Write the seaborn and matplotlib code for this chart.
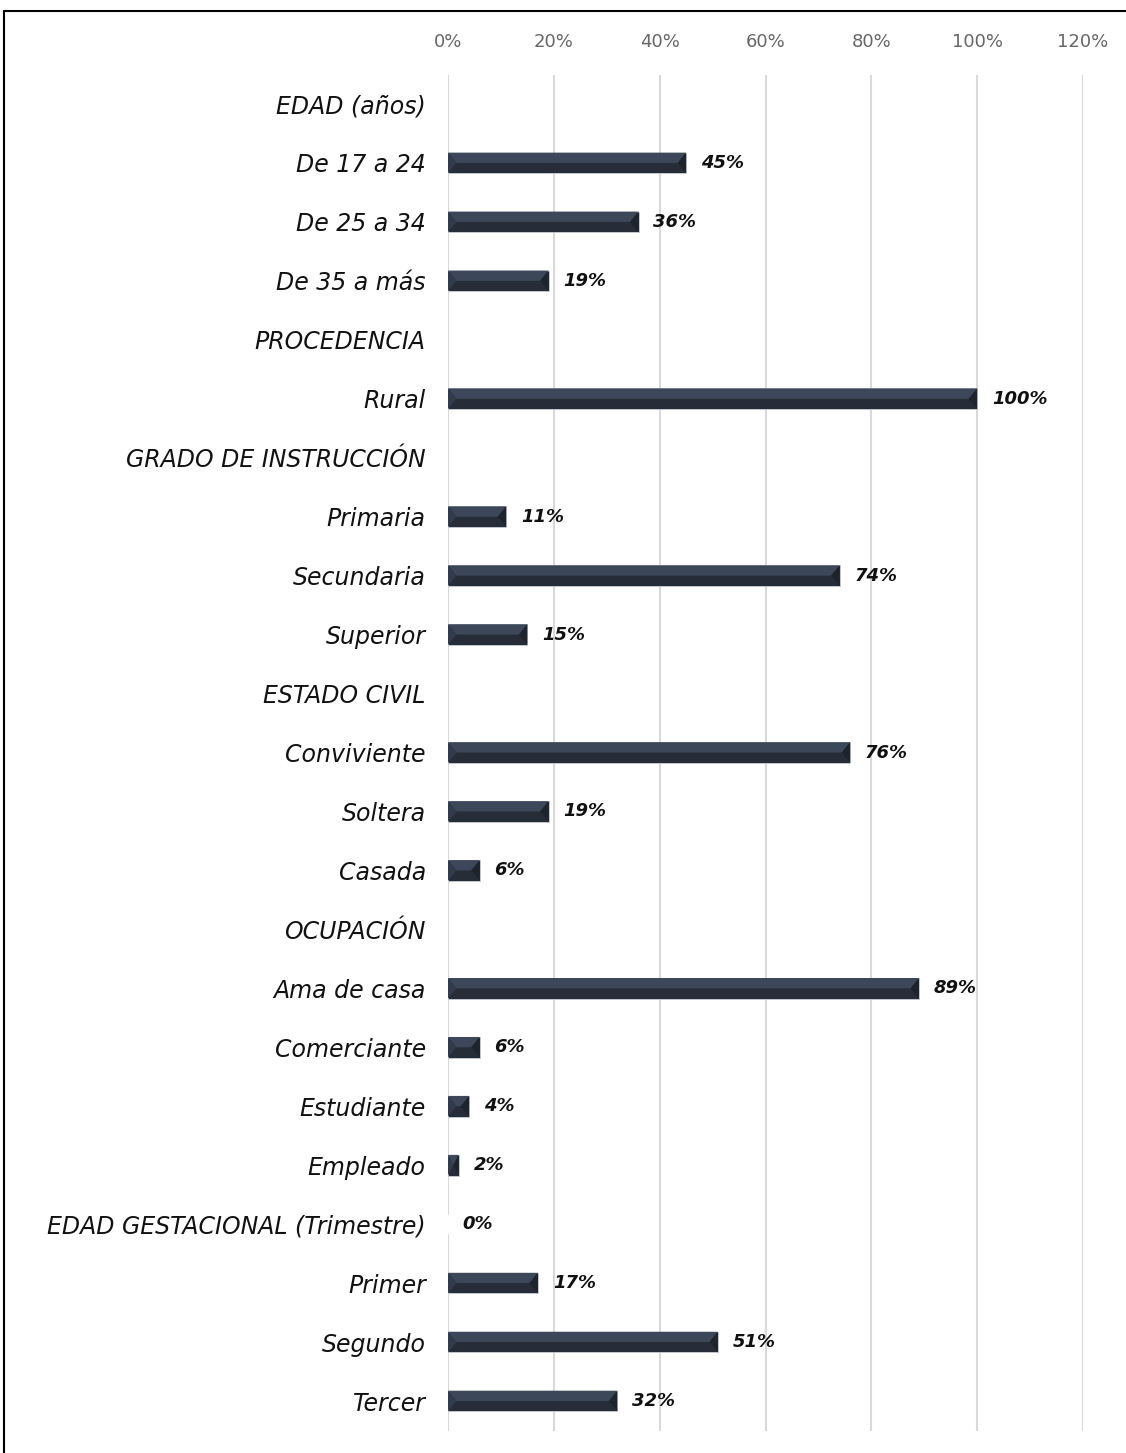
import numpy as np
import pandas as pd
import matplotlib
matplotlib.use("Agg")
import matplotlib.pyplot as plt
from matplotlib.lines import Line2D
from matplotlib.patches import Polygon
from matplotlib.ticker import FuncFormatter
import seaborn as sns

categories = ["EDAD (años)", "De 17 a 24", "De 25 a 34", "De 35 a más",
              "PROCEDENCIA", "Rural",
              "GRADO DE INSTRUCCIÓN", "Primaria", "Secundaria", "Superior",
              "ESTADO CIVIL", "Conviviente", "Soltera", "Casada",
              "OCUPACIÓN", "Ama de casa", "Comerciante", "Estudiante", "Empleado",
              "EDAD GESTACIONAL (Trimestre)", "Primer", "Segundo", "Tercer"]
values = [np.nan, 45, 36, 19,
          np.nan, 100,
          np.nan, 11, 74, 15,
          np.nan, 76, 19, 6,
          np.nan, 89, 6, 4, 2,
          0, 17, 51, 32]
tick_values = [0, 20, 40, 60, 80, 100, 120]

df = pd.DataFrame({"cat": categories, "val": values})

sns.set_theme(style="white")
plt.rcParams['font.family'] = ['DejaVu Sans']

W, H = 1126, 1453
fig = plt.figure(figsize=(W / 100, H / 100), dpi=100)
ax = fig.add_axes([448 / W, 1 - 1430.5 / H, (1083 - 448) / W, (1430.5 - 74.5) / H])

sns.barplot(data=df, x="val", y="cat", order=categories, color="#262D38",
            saturation=1, width=0.35, ax=ax, orient="h")

# bevel: lighter upper half, derived from each bar's geometry
for p in ax.patches:
    x0, y0 = p.get_x(), p.get_y()
    w, h = p.get_width(), p.get_height()
    if not np.isfinite(w) or w <= 0:
        continue
    p.set_edgecolor("#c9ced6")
    p.set_linewidth(0.6)
    inset_x = min(w * 0.5, 1.6)
    top = Polygon([[x0, y0], [x0 + w, y0], [x0 + w - inset_x, y0 + h / 2],
                   [x0 + inset_x, y0 + h / 2]], closed=True,
                  facecolor="#3C475A", edgecolor="none", zorder=p.get_zorder() + 0.1)
    ax.add_patch(top)
    left = Polygon([[x0, y0], [x0 + inset_x, y0 + h / 2], [x0, y0 + h]], closed=True,
                   facecolor="#323B4B", edgecolor="none", zorder=p.get_zorder() + 0.1)
    ax.add_patch(left)
    right = Polygon([[x0 + w, y0], [x0 + w - inset_x, y0 + h / 2], [x0 + w, y0 + h]],
                    closed=True, facecolor="#1E242D", edgecolor="none",
                    zorder=p.get_zorder() + 0.1)
    ax.add_patch(right)

# value labels
for i, v in enumerate(values):
    if np.isfinite(v):
        ax.text(v + 2.8, i, f"{v:.0f}%", va="center", ha="left",
                fontsize=13, fontweight="bold", fontstyle="italic", color="#111111")

ax.set_xlim(0, 120)
ax.set_ylim(len(categories) - 0.5, -0.5)
ax.set_xticks(tick_values)
ax.xaxis.set_major_formatter(FuncFormatter(lambda x, _: f"{x:.0f}%"))
ax.xaxis.tick_top()
ax.tick_params(axis="x", length=0, pad=17, labelsize=13, labelcolor="#666666")
ax.tick_params(axis="y", length=0, pad=16, labelsize=17)
for lab in ax.get_yticklabels():
    lab.set_fontstyle("italic")
    lab.set_color("#111111")
ax.set_xlabel("")
ax.set_ylabel("")
ax.grid(axis="x", color="#D9D9D9", linewidth=1.5)
ax.grid(axis="y", visible=False)
ax.set_axisbelow(True)
for s in ax.spines.values():
    s.set_visible(False)

# outer frame (left and top visible)
fig.add_artist(Line2D([4 / W, 4 / W], [0, 1 - 11 / H], color="black", linewidth=1.5,
                      transform=fig.transFigure))
fig.add_artist(Line2D([4 / W, 1], [1 - 11 / H, 1 - 11 / H], color="black", linewidth=1.5,
                      transform=fig.transFigure))

fig.savefig("out.png", dpi=100, facecolor="white")
